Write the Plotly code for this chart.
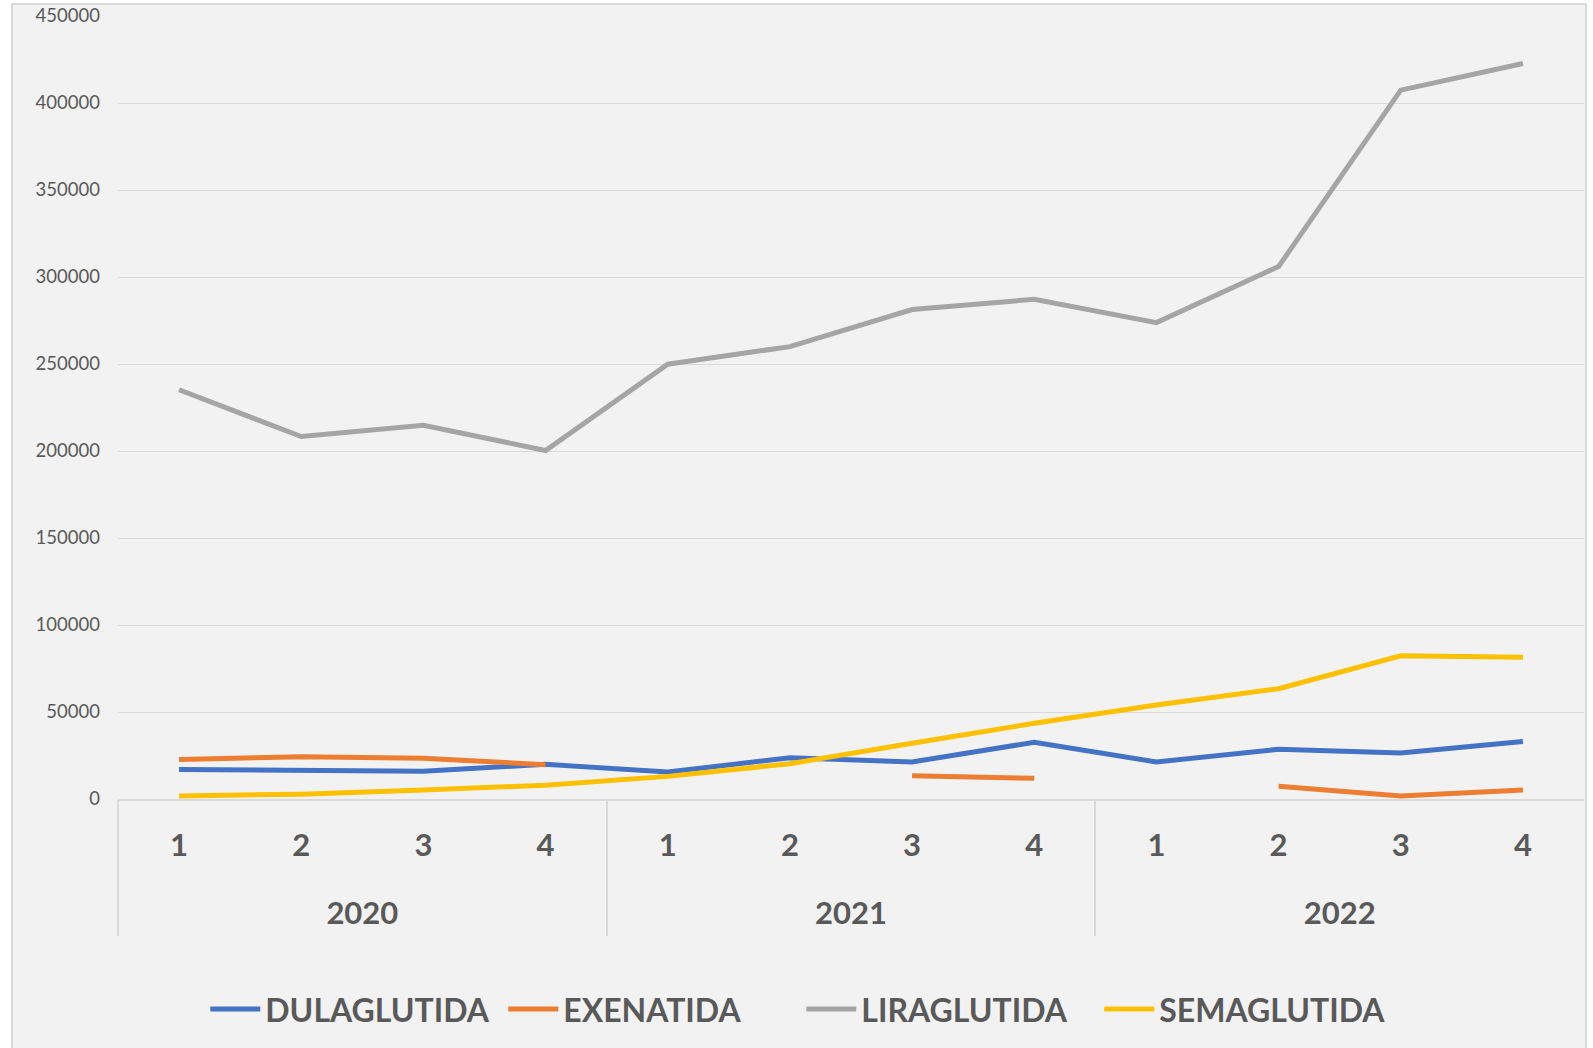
import plotly.graph_objects as go

years = ["2020", "2021", "2022"]
quarters = ["1", "2", "3", "4"]

dulaglutida = [16900, 16100, 16000, 19900, 15500, 23700, 21300, 32600, 21300, 28600, 26400, 33000]
exenatida = [22700, 24300, 23400, 19700, None, None, 13400, 11900, None, 7300, 1700, 5200]
liraglutida = [235200, 208300, 214800, 200300, 249900, 260000, 281300, 287200, 273800, 306000, 407400, 422700]
semaglutida = [1700, 2800, 5200, 7900, 13000, 20300, 32000, 43500, 54000, 63400, 82300, 81500]

series = [
    ("DULAGLUTIDA", dulaglutida, "#4472C4", "x"),
    ("EXENATIDA", exenatida, "#ED7D31", "x"),
    ("LIRAGLUTIDA", liraglutida, "#A5A5A5", "x"),
    ("SEMAGLUTIDA", semaglutida, "#FFC000", "x2"),
]

nq = len(quarters)
x_quarters = [q for _ in years for q in quarters]
idx = list(range(len(x_quarters)))
year_centers = [i * nq + (nq - 1) / 2 for i in range(len(years))]
year_bounds = [i * nq - 0.5 for i in range(len(years))]
xrange = [-0.5, len(idx) - 0.5]

fig = go.Figure()
for name, vals, color, xa in series:
    fig.add_trace(go.Scatter(
        x=idx, y=vals, name=name, mode="lines", xaxis=xa, yaxis="y",
        line=dict(color=color, width=5), connectgaps=False,
    ))

W, H = 1593, 1048
ml, mr, mt, mb = 118, 9, 16, 249
pw, ph = W - ml - mr, H - mt - mb

fig.add_shape(
    type="rect", xref="paper", yref="paper", layer="below",
    x0=(12 - ml) / pw, x1=(1586 - ml) / pw,
    y0=(H - mb - 1060) / ph, y1=1 + (mt - 4) / ph,
    fillcolor="#F2F2F2", line=dict(color="#D9D9D9", width=2),
)

bold = dict(family="Lato", size=31, color="#595959", weight="bold")

fig.update_layout(
    width=W, height=H,
    margin=dict(l=ml, r=mr, t=mt, b=mb, autoexpand=False),
    paper_bgcolor="white", plot_bgcolor="#F2F2F2",
    font=dict(family="Lato", color="#595959"),
    showlegend=True,
    legend=dict(
        orientation="h", xref="container", yref="container",
        x=0.503, xanchor="center", y=0.037, yanchor="middle",
        font=dict(family="Lato", size=32, color="#595959", weight="bold"),
        itemwidth=50, entrywidth=233, bgcolor="rgba(0,0,0,0)",
    ),
    xaxis=dict(
        range=xrange, tickmode="array", tickvals=idx, ticktext=x_quarters,
        showgrid=False, zeroline=False, showline=True, linecolor="#D9D9D9", linewidth=2,
        ticks="", tickfont=bold, ticklabelstandoff=18,
    ),
    xaxis2=dict(
        range=xrange, overlaying="x", anchor="y", side="bottom",
        tickmode="array", tickvals=year_centers, ticktext=years,
        showgrid=False, zeroline=False, showline=False,
        ticks="", tickfont=bold, ticklabelstandoff=93,
        minor=dict(tickmode="array", tickvals=year_bounds, ticks="outside",
                   ticklen=136, tickwidth=2, tickcolor="#D9D9D9", showgrid=False),
    ),
    yaxis=dict(
        range=[0, 450000], dtick=50000, tickformat="d",
        showgrid=True, gridcolor="#D9D9D9", gridwidth=1.3,
        zeroline=False, showline=False,
        tickfont=dict(family="Lato", size=18.5, color="#595959"),
        ticklabelstandoff=17, ticklabeloverflow="allow",
    ),
)

fig.write_html(
    "out.html",
    config={"displayModeBar": False},
    post_script="document.body.style.margin='0px';",
)
